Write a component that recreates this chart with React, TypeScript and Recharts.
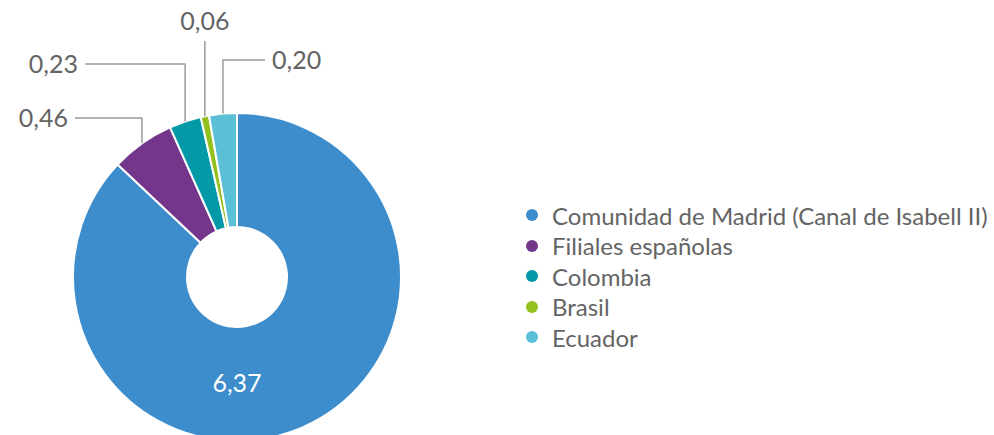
import React from 'react';
import { PieChart, Pie, Cell, Legend } from 'recharts';

const categories = [
  'Comunidad de Madrid (Canal de Isabell II)',
  'Filiales españolas',
  'Colombia',
  'Brasil',
  'Ecuador',
];
const values = [6.37, 0.46, 0.23, 0.06, 0.2];
const valueLabels = ['6,37', '0,46', '0,23', '0,06', '0,20'];
const colors = ['#3d8dcd', '#74368a', '#0499a7', '#94c11f', '#5bc0d6'];

// callout layout for the small slices: elbow height and which side the text sits
const callouts: Record<number, { elbowY: number; side: 'left' | 'right' | 'top'; lineTo?: number }> = {
  1: { elbowY: 118, side: 'left', lineTo: 75 },
  2: { elbowY: 64, side: 'left', lineTo: 85 },
  3: { elbowY: 41, side: 'top' },
  4: { elbowY: 60, side: 'right', lineTo: 265 },
};

const chartData = categories.map((name, i) => ({
  name,
  value: values[i],
  label: valueLabels[i],
  color: colors[i],
}));

const FONT = 'Lato, "Open Sans", sans-serif';
const RAD = Math.PI / 180;

const renderLabel = (props: any) => {
  const { cx, cy, midAngle, outerRadius, innerRadius, index } = props;
  const text = valueLabels[index];
  if (index === 0) {
    return (
      <text
        x={cx}
        y={cy + (innerRadius + outerRadius) / 2 + 8}
        textAnchor="middle"
        fill="#ffffff"
        fontSize={25}
        fontFamily={FONT}
      >
        {text}
      </text>
    );
  }
  const c = callouts[index];
  const ax = cx + outerRadius * Math.cos(-midAngle * RAD);
  const ay = cy + outerRadius * Math.sin(-midAngle * RAD);
  const lineColor = '#9a9a9a';
  if (c.side === 'top') {
    return (
      <g>
        <path d={`M${ax},${ay} L${ax},${c.elbowY}`} stroke={lineColor} strokeWidth={1.5} fill="none" />
        <text x={ax} y={c.elbowY - 11} textAnchor="middle" fill="#646464" fontSize={25} fontFamily={FONT}>
          {text}
        </text>
      </g>
    );
  }
  const endX = c.lineTo as number;
  const textX = c.side === 'left' ? endX - 7 : endX + 7;
  return (
    <g>
      <path
        d={`M${ax},${ay} L${ax},${c.elbowY} L${endX},${c.elbowY}`}
        stroke={lineColor}
        strokeWidth={1.5}
        fill="none"
      />
      <text
        x={textX}
        y={c.elbowY + 9}
        textAnchor={c.side === 'left' ? 'end' : 'start'}
        fill="#646464"
        fontSize={25}
        fontFamily={FONT}
      >
        {text}
      </text>
    </g>
  );
};

const LegendContent = () => (
  <div style={{ fontFamily: FONT }}>
    {chartData.map((d) => (
      <div key={d.name} style={{ display: 'flex', alignItems: 'center', height: 30.5 }}>
        <span
          style={{
            width: 12,
            height: 12,
            borderRadius: 6,
            background: d.color,
            display: 'inline-block',
            marginRight: 14,
          }}
        />
        <span style={{ color: '#646464', fontSize: 24, whiteSpace: 'nowrap' }}>{d.name}</span>
      </div>
    ))}
  </div>
);

export default function App() {
  return (
    <div style={{ position: 'absolute', left: 0, top: 0, background: '#fff' }}>
      <PieChart width={994} height={435}>
        <Pie
          data={chartData}
          dataKey="value"
          nameKey="name"
          cx={232}
          cy={272}
          innerRadius={50}
          outerRadius={164}
          startAngle={90}
          endAngle={-270}
          stroke="#ffffff"
          strokeWidth={2}
          label={renderLabel}
          labelLine={false}
          isAnimationActive={false}
        >
          {chartData.map((entry, index) => (
            <Cell key={`cell-${index}`} fill={entry.color} />
          ))}
        </Pie>
        <Legend
          content={<LegendContent />}
          layout="vertical"
          wrapperStyle={{ left: 526, top: 200, width: 470 }}
        />
      </PieChart>
    </div>
  );
}
